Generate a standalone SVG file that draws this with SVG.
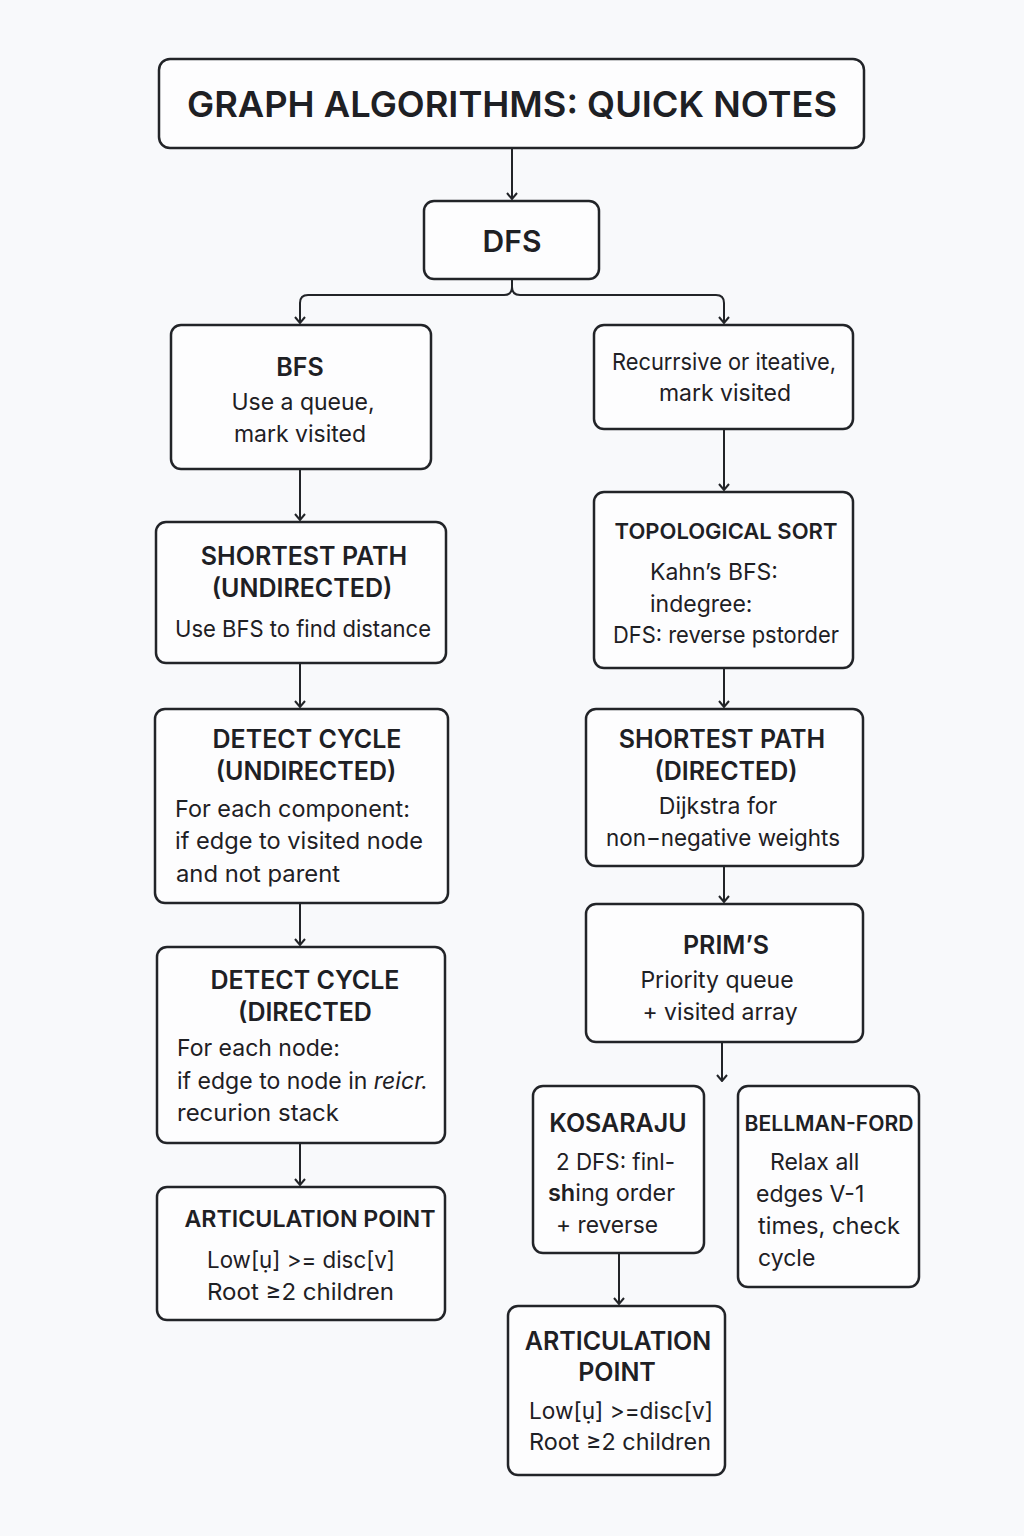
<svg xmlns="http://www.w3.org/2000/svg" width="1024" height="1536" viewBox="0 0 1024 1536">
<style>
.box{fill:#fdfdfe;stroke:#222428;stroke-width:2.5}
.t{font-family:Inter,"Open Sans","Liberation Sans",sans-serif;fill:#1e2024}
.h{font-weight:600;font-size:25px}
.b{font-weight:400;font-size:23px}
.c{text-anchor:middle}
.cn{fill:none;stroke:#222428;stroke-width:2}
</style>
<defs>
<marker id="ah" viewBox="0 0 12 12" refX="11" refY="6" markerWidth="12" markerHeight="12" markerUnits="userSpaceOnUse" orient="auto">
<path d="M5 1 L11 6 L5 11" fill="none" stroke="#222428" stroke-width="2"/>
</marker>
</defs>
<rect width="1024" height="1536" fill="#f8f9fb"/>
<g id="connectors">
<path class="cn" d="M512 148 V199" marker-end="url(#ah)"/>
<path class="cn" d="M512 279 V287 Q512 295 504 295 H308 Q300 295 300 303 V323" marker-end="url(#ah)"/>
<path class="cn" d="M512 287 Q512 295 520 295 H716 Q724 295 724 303 V323" marker-end="url(#ah)"/>
<path class="cn" d="M300 469 V520" marker-end="url(#ah)"/>
<path class="cn" d="M724 429 V490" marker-end="url(#ah)"/>
<path class="cn" d="M300 663 V707" marker-end="url(#ah)"/>
<path class="cn" d="M724 668 V707" marker-end="url(#ah)"/>
<path class="cn" d="M300 903 V945" marker-end="url(#ah)"/>
<path class="cn" d="M724 866 V902" marker-end="url(#ah)"/>
<path class="cn" d="M722 1042 V1081" marker-end="url(#ah)"/>
<path class="cn" d="M300 1143 V1185" marker-end="url(#ah)"/>
<path class="cn" d="M619 1253 V1304" marker-end="url(#ah)"/>
</g>
<g id="title">
<rect class="box" x="159" y="59" width="705" height="89" rx="11"/>
<text class="t c" x="512" y="117" font-size="36" font-weight="600" textLength="650" lengthAdjust="spacingAndGlyphs">GRAPH ALGORITHMS: QUICK NOTES</text>
</g>
<g id="dfs">
<rect class="box" x="424" y="201" width="175" height="78" rx="10"/>
<text class="t c" x="512" y="252" font-size="30" font-weight="600">DFS</text>
</g>
<g id="bfs">
<rect class="box" x="171" y="325" width="260" height="144" rx="10"/>
<text class="t h c" x="300" y="376" font-size="26">BFS</text>
<text class="t b c" x="303" y="410">Use a queue,</text>
<text class="t b c" x="300" y="442">mark visited</text>
</g>
<g id="dfs-note">
<rect class="box" x="594" y="325" width="259" height="104" rx="10"/>
<text class="t b c" x="724" y="370" textLength="224" lengthAdjust="spacingAndGlyphs">Recurrsive or iteative,</text>
<text class="t b c" x="725" y="401">mark visited</text>
</g>
<g id="sp-undirected">
<rect class="box" x="156" y="522" width="290" height="141" rx="10"/>
<text class="t h c" x="304" y="565">SHORTEST PATH</text>
<text class="t h c" x="302" y="597">(UNDIRECTED)</text>
<text class="t b c" x="303" y="637" textLength="256" lengthAdjust="spacingAndGlyphs">Use BFS to find distance</text>
</g>
<g id="topo">
<rect class="box" x="594" y="492" width="259" height="176" rx="10"/>
<text class="t c" x="726" y="539" font-size="22" font-weight="600">TOPOLOGICAL SORT</text>
<text class="t b" x="650" y="580">Kahn’s BFS:</text>
<text class="t b" x="650" y="612">indegree:</text>
<text class="t b" x="613" y="643" textLength="226" lengthAdjust="spacingAndGlyphs">DFS: reverse pstorder</text>
</g>
<g id="cycle-undirected">
<rect class="box" x="155" y="709" width="293" height="194" rx="10"/>
<text class="t h c" x="307" y="748">DETECT CYCLE</text>
<text class="t h c" x="306" y="780">(UNDIRECTED)</text>
<text class="t b" x="175" y="817" textLength="235" lengthAdjust="spacingAndGlyphs">For each component:</text>
<text class="t b" x="175" y="849" textLength="248" lengthAdjust="spacingAndGlyphs">if edge to visited node</text>
<text class="t b" x="176" y="882" textLength="164" lengthAdjust="spacingAndGlyphs">and not parent</text>
</g>
<g id="sp-directed">
<rect class="box" x="586" y="709" width="277" height="157" rx="10"/>
<text class="t h c" x="722" y="748">SHORTEST PATH</text>
<text class="t h c" x="726" y="780">(DIRECTED)</text>
<text class="t b c" x="718" y="814">Dijkstra for</text>
<text class="t b c" x="723" y="846" textLength="234" lengthAdjust="spacingAndGlyphs">non−negative weights</text>
</g>
<g id="cycle-directed">
<rect class="box" x="157" y="947" width="288" height="196" rx="10"/>
<text class="t h c" x="305" y="989">DETECT CYCLE</text>
<text class="t h c" x="305" y="1021">(DIRECTED</text>
<text class="t b" x="177" y="1056">For each node:</text>
<text class="t b" x="177" y="1089" textLength="251" lengthAdjust="spacingAndGlyphs">if edge to node in <tspan font-style="italic">reicr.</tspan></text>
<text class="t b" x="177" y="1121" textLength="162" lengthAdjust="spacingAndGlyphs">recurion stack</text>
</g>
<g id="prims">
<rect class="box" x="586" y="904" width="277" height="138" rx="10"/>
<text class="t h c" x="726" y="954">PRIM’S</text>
<text class="t b c" x="717" y="988">Priority queue</text>
<text class="t b c" x="720" y="1020">+ visited array</text>
</g>
<g id="kosaraju">
<rect class="box" x="533" y="1086" width="171" height="167" rx="10"/>
<text class="t h c" x="618" y="1132" font-size="24">KOSARAJU</text>
<text class="t b" x="556" y="1170" textLength="119" lengthAdjust="spacingAndGlyphs">2 DFS: finl-</text>
<text class="t b" x="548" y="1201" textLength="127" lengthAdjust="spacingAndGlyphs"><tspan font-weight="600">sh</tspan>ing order</text>
<text class="t b" x="556" y="1233" textLength="102" lengthAdjust="spacingAndGlyphs">+ reverse</text>
</g>
<g id="bellman-ford">
<rect class="box" x="738" y="1086" width="181" height="201" rx="10"/>
<text class="t c" x="829" y="1131" font-size="21" font-weight="600" textLength="169" lengthAdjust="spacingAndGlyphs">BELLMAN-FORD</text>
<text class="t b" x="770" y="1170">Relax all</text>
<text class="t b" x="756" y="1202">edges V-1</text>
<text class="t b" x="758" y="1234" textLength="142" lengthAdjust="spacingAndGlyphs">times, check</text>
<text class="t b" x="758" y="1266">cycle</text>
</g>
<g id="articulation-left">
<rect class="box" x="157" y="1187" width="288" height="133" rx="10"/>
<text class="t c" x="310" y="1227" font-size="23" font-weight="600" textLength="251" lengthAdjust="spacingAndGlyphs">ARTICULATION POINT</text>
<text class="t b" x="207" y="1268" textLength="188" lengthAdjust="spacingAndGlyphs">Low[ụ] &gt;= disc[v]</text>
<text class="t b" x="207" y="1300" textLength="187" lengthAdjust="spacingAndGlyphs">Root  ≥2 children</text>
</g>
<g id="articulation-right">
<rect class="box" x="508" y="1306" width="217" height="169" rx="10"/>
<text class="t h c" x="618" y="1350">ARTICULATION</text>
<text class="t h c" x="617" y="1381">POINT</text>
<text class="t b" x="529" y="1419" textLength="184" lengthAdjust="spacingAndGlyphs">Low[ụ] &gt;=disc[v]</text>
<text class="t b" x="529" y="1450" textLength="182" lengthAdjust="spacingAndGlyphs">Root ≥2 children</text>
</g>
</svg>
